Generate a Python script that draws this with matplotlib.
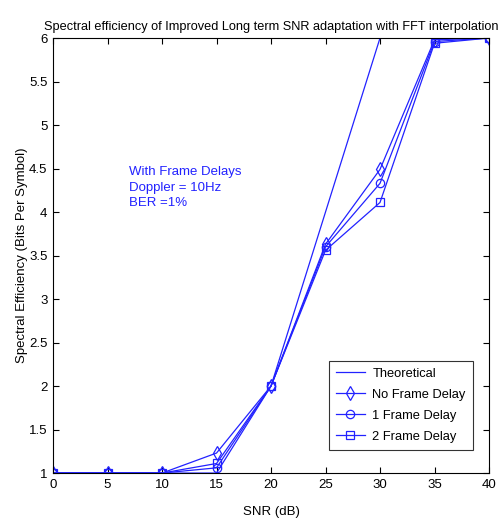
import matplotlib
matplotlib.use("Agg")
import matplotlib.pyplot as plt

plt.rcParams['font.family'] = ['Liberation Sans', 'DejaVu Sans']

snr_db = [0, 5, 10, 15, 20, 25, 30, 35, 40]
theoretical = [1, 1, 1, 1, 2, 4, 6, 6, 6]
no_frame_delay = [1, 1, 1, 1.23, 2.0, 3.63, 4.49, 5.98, 6.0]
one_frame_delay = [1, 1, 1, 1.06, 2.0, 3.60, 4.33, 5.96, 6.0]
two_frame_delay = [1, 1, 1, 1.11, 2.0, 3.56, 4.11, 5.94, 6.0]

x_ticks = list(range(0, 41, 5))
y_ticks = [1, 1.5, 2, 2.5, 3, 3.5, 4, 4.5, 5, 5.5, 6]
y_tick_labels = ['1', '1.5', '2', '2.5', '3', '3.5', '4', '4.5', '5', '5.5', '6']

blue = '#2222ff'

fig = plt.figure(figsize=(5.0, 5.21), dpi=100)
ax = fig.add_axes([0.106, 0.092, 0.872, 0.835])

ax.plot(snr_db, theoretical, color=blue, lw=0.9, label='Theoretical')
ax.plot(snr_db, no_frame_delay, color=blue, lw=0.9, marker='d', ms=7,
        mfc='none', mec=blue, mew=0.9, label='No Frame Delay')
ax.plot(snr_db, one_frame_delay, color=blue, lw=0.9, marker='o', ms=6,
        mfc='none', mec=blue, mew=0.9, label='1 Frame Delay')
ax.plot(snr_db, two_frame_delay, color=blue, lw=0.9, marker='s', ms=6,
        mfc='none', mec=blue, mew=0.9, label='2 Frame Delay')

ax.set_xlim(0, 40)
ax.set_ylim(1, 6)
ax.set_xticks(x_ticks)
ax.set_yticks(y_ticks)
ax.set_yticklabels(y_tick_labels)
ax.tick_params(direction='in', length=4, width=0.8, labelsize=9.5,
               top=True, right=True, pad=4)
for sp in ax.spines.values():
    sp.set_linewidth(0.8)

ax.set_title('Spectral efficiency of Improved Long term SNR adaptation with FFT interpolation',
             fontsize=9.2, pad=6)
ax.set_xlabel('SNR (dB)', fontsize=9.5, labelpad=11)
ax.set_ylabel('Spectral Efficiency (Bits Per Symbol)', fontsize=9.5, labelpad=1)

ax.text(7.0, 4.28, 'With Frame Delays\nDoppler = 10Hz\nBER =1%', color=blue,
        fontsize=9.5, va='center', ha='left', linespacing=1.4)

leg = ax.legend(loc='lower right', bbox_to_anchor=(0.963, 0.053), fontsize=9.3,
                frameon=True, fancybox=False, edgecolor='black',
                handlelength=2.2, borderpad=0.55, labelspacing=0.7,
                handletextpad=0.6, borderaxespad=0)
leg.get_frame().set_linewidth(0.8)

fig.savefig('out.png', dpi=100)
